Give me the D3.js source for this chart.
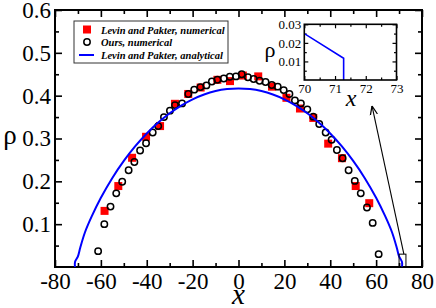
<!DOCTYPE html>
<html>
<head>
<meta charset="utf-8">
<script src="https://cdn.jsdelivr.net/npm/d3@7"></script>
<style>
  body { margin: 0; background: #fff; }
  svg { display: block; }
  .tick line { stroke: #000; }
</style>
</head>
<body>
<div id="chart"></div>
<script>
// Levin and Pakter, numerical (red squares)
const lpX = [-58.4, -52.4, -46.4, -40.3, -34.2, -27.7, -21.9, -16.5, -9.2, -3.7,
  1.9, 8.6, 14.6, 20.9, 26.8, 32.6, 39.1, 45.1, 51.1, 57.0];
const lpRho = [0.131, 0.189, 0.255, 0.304, 0.329, 0.381, 0.404, 0.419, 0.437, 0.434,
  0.447, 0.445, 0.421, 0.395, 0.370, 0.348, 0.288, 0.254, 0.189, 0.149];

// Ours, numerical (open circles)
const oursX = [-61.2, -58.5, -55.8, -53.3, -50.7, -47.9, -45.4, -42.9, -40.3, -37.4,
  -35.0, -32.5, -29.9, -27.7, -24.6, -21.9, -19.3, -16.6, -14.0, -11.6,
  -9.2, -6.4, -3.8, -1.1, 1.4, 4.1, 6.6, 9.2, 11.8, 14.5,
  17.1, 19.7, 22.2, 24.6, 27.2, 30.0, 32.6, 35.2, 38.0, 40.6,
  42.9, 45.4, 48.0, 50.7, 53.3, 56.0, 58.5, 61.1];
const oursRho = [0.037, 0.100, 0.141, 0.172, 0.199, 0.226, 0.245, 0.272, 0.289, 0.314,
  0.329, 0.350, 0.365, 0.378, 0.382, 0.404, 0.414, 0.420, 0.424, 0.433,
  0.437, 0.440, 0.444, 0.445, 0.450, 0.443, 0.439, 0.435, 0.432, 0.425,
  0.421, 0.413, 0.404, 0.389, 0.382, 0.368, 0.351, 0.334, 0.314, 0.297,
  0.273, 0.254, 0.226, 0.201, 0.172, 0.139, 0.103, 0.030];

// Levin and Pakter, analytical (blue line)
const anX = [-71.28, -71.28, -70, -69, -67, -64, -60, -55, -50, -45, -40, -35, -30, -25, -20, -15, -10, -5,
  0, 5, 10, 15, 20, 25, 30, 35, 40, 45, 50, 55, 60, 64, 67, 69, 70, 71.28, 71.28];
const anRho = [0, 0.0117, 0.025, 0.045, 0.080, 0.118, 0.1615, 0.208, 0.2476, 0.282, 0.3117, 0.3372, 0.3589, 0.3769, 0.3915, 0.4027, 0.4107, 0.4154,
  0.417, 0.4154, 0.4107, 0.4027, 0.3915, 0.3769, 0.3589, 0.3372, 0.3117, 0.282, 0.2476, 0.208, 0.1615, 0.118, 0.080, 0.045, 0.025, 0.0117, 0];

const xTicks = [-80, -60, -40, -20, 0, 20, 40, 60, 80];
const xTickLabels = ["-80", "-60", "-40", "-20", "0", "20", "40", "60", "80"];
const xMinor = [-70, -50, -30, -10, 10, 30, 50, 70];
const yTicks = [0.1, 0.2, 0.3, 0.4, 0.5, 0.6];
const yTickLabels = ["0.1", "0.2", "0.3", "0.4", "0.5", "0.6"];
const yMinor = [0.05, 0.15, 0.25, 0.35, 0.45, 0.55];

// inset (zoom of the right edge)
const insetXTicks = [70, 71, 72, 73];
const insetXLabels = ["70", "71", "72", "73"];
const insetXMinor = [70.5, 71.5, 72.5];
const insetYTicks = [0.01, 0.02, 0.03];
const insetYLabels = ["0.01", "0.02", "0.03"];
const insetYMinor = [0.005, 0.015, 0.025];

const legendLabels = ["Levin and Pakter, numerical", "Ours, numerical", "Levin and Pakter, analytical"];

const serif = "Liberation Serif";
const W = 436, H = 308;
const svg = d3.select("#chart").append("svg")
  .attr("width", W)
  .attr("height", H)
  .attr("font-family", serif);

const x = d3.scaleLinear().domain([-80, 80]).range([55, 422]);
const y = d3.scaleLinear().domain([0, 0.6]).range([267, 10]);

const fs = 23;

// ticks, mirrored on all four sides, pointing inwards
function ticks(g, axis, size, vals, labels, pad, fsize, sw) {
  const a = axis.tickValues(vals).tickSize(-size).tickPadding(pad);
  a.tickFormat(labels ? (d, i) => labels[i] : () => "");
  g.call(a);
  g.attr("font-family", serif);
  g.select(".domain").remove();
  g.selectAll(".tick line").attr("stroke-width", sw);
  g.selectAll("text").attr("font-size", fsize).attr("fill", "#000")
    .attr("font-family", serif);
}

svg.append("g").attr("transform", "translate(0,267)")
  .call(g => ticks(g, d3.axisBottom(x), 7, xTicks, xTickLabels, 6, fs, 1.6));
svg.append("g").attr("transform", "translate(0,267)")
  .call(g => ticks(g, d3.axisBottom(x), 4, xMinor, null, 6, fs, 1.6));
svg.append("g").attr("transform", "translate(0,10)")
  .call(g => ticks(g, d3.axisTop(x), 7, xTicks, null, 6, fs, 1.6));
svg.append("g").attr("transform", "translate(0,10)")
  .call(g => ticks(g, d3.axisTop(x), 4, xMinor, null, 6, fs, 1.6));
svg.append("g").attr("transform", "translate(55,0)")
  .call(g => ticks(g, d3.axisLeft(y), 7, yTicks, yTickLabels, 4, fs, 1.6));
svg.append("g").attr("transform", "translate(55,0)")
  .call(g => ticks(g, d3.axisLeft(y), 4, yMinor, null, 4, fs, 1.6));
svg.append("g").attr("transform", "translate(422,0)")
  .call(g => ticks(g, d3.axisRight(y), 7, yTicks, null, 4, fs, 1.6));
svg.append("g").attr("transform", "translate(422,0)")
  .call(g => ticks(g, d3.axisRight(y), 4, yMinor, null, 4, fs, 1.6));

// frame
svg.append("rect")
  .attr("x", x(-80)).attr("y", y(0.6))
  .attr("width", x(80) - x(-80)).attr("height", y(0) - y(0.6))
  .attr("fill", "none").attr("stroke", "#000").attr("stroke-width", 2);

// axis titles
svg.append("text")
  .attr("x", 10).attr("y", 144)
  .attr("text-anchor", "middle")
  .attr("font-family", serif)
  .attr("font-size", 27)
  .text("ρ");
svg.append("text")
  .attr("x", x(0)).attr("y", 304)
  .attr("text-anchor", "middle")
  .attr("font-family", serif)
  .attr("font-size", 29)
  .attr("font-style", "italic")
  .text("x");

// data
const lp = lpX.map((d, i) => ({ x: d, y: lpRho[i] }));
const ours = oursX.map((d, i) => ({ x: d, y: oursRho[i] }));
const an = anX.map((d, i) => ({ x: d, y: anRho[i] }));

const sq = 8;
svg.append("g").selectAll("rect")
  .data(lp)
  .enter().append("rect")
  .attr("x", d => x(d.x) - sq / 2)
  .attr("y", d => y(d.y) - sq / 2)
  .attr("width", sq).attr("height", sq)
  .attr("fill", "#ff0000");

svg.append("g").selectAll("circle")
  .data(ours)
  .enter().append("circle")
  .attr("cx", d => x(d.x))
  .attr("cy", d => y(d.y))
  .attr("r", 3.2)
  .attr("fill", "none")
  .attr("stroke", "#000")
  .attr("stroke-width", 1.5);

const line = d3.line()
  .x(d => x(d.x))
  .y(d => y(d.y))
  .curve(d3.curveCatmullRom.alpha(0.5));

svg.append("path")
  .datum(an)
  .attr("d", line)
  .attr("fill", "none")
  .attr("stroke", "#0000ff")
  .attr("stroke-width", 2);

// legend
const lg = svg.append("g");
lg.append("rect")
  .attr("x", 74).attr("y", 21).attr("width", 154).attr("height", 42)
  .attr("fill", "#fff").attr("stroke", "#333").attr("stroke-width", 1);
const rowY = [29.5, 42, 55];
lg.append("rect").attr("x", 83).attr("y", rowY[0] - 4).attr("width", 8).attr("height", 8)
  .attr("fill", "#ff0000");
lg.append("circle").attr("cx", 87).attr("cy", rowY[1]).attr("r", 3.2)
  .attr("fill", "none").attr("stroke", "#000").attr("stroke-width", 1.5);
lg.append("line").attr("x1", 79).attr("x2", 94).attr("y1", rowY[2]).attr("y2", rowY[2])
  .attr("stroke", "#0000ff").attr("stroke-width", 2);
lg.selectAll("text.leg")
  .data(legendLabels)
  .enter().append("text")
  .attr("class", "leg")
  .attr("x", 101)
  .attr("y", (d, i) => rowY[i] + 4)
  .attr("font-family", serif)
  .attr("font-size", 10.5)
  .attr("font-style", "italic")
  .attr("font-weight", "bold")
  .text(d => d);

// zoom box + arrow
svg.append("rect")
  .attr("x", x(70)).attr("y", y(0.03))
  .attr("width", x(73) - x(70)).attr("height", y(0) - y(0.03))
  .attr("fill", "none").attr("stroke", "#000").attr("stroke-width", 1);

svg.append("defs").append("marker")
  .attr("id", "arr")
  .attr("viewBox", "0 0 10 10")
  .attr("refX", 10).attr("refY", 5)
  .attr("markerWidth", 9).attr("markerHeight", 9)
  .attr("markerUnits", "userSpaceOnUse")
  .attr("orient", "auto")
  .append("path")
  .attr("d", "M0,1 L10,5 L0,9")
  .attr("fill", "none").attr("stroke", "#000").attr("stroke-width", 1.4);

svg.append("line")
  .attr("x1", x(72.1)).attr("y1", y(0.03))
  .attr("x2", x(58.2)).attr("y2", y(0.376))
  .attr("stroke", "#000").attr("stroke-width", 1.1)
  .attr("marker-end", "url(#arr)");

// inset
const xi = d3.scaleLinear().domain([70, 73]).range([304.3, 396.5]);
const yi = d3.scaleLinear().domain([0, 0.03]).range([80, 24.3]);
const inset = svg.append("g");
inset.append("rect")
  .attr("x", xi(70)).attr("y", yi(0.03))
  .attr("width", xi(73) - xi(70)).attr("height", yi(0) - yi(0.03))
  .attr("fill", "#fff");

inset.append("g").attr("transform", "translate(0,80)")
  .call(g => ticks(g, d3.axisBottom(xi), 4, insetXTicks, insetXLabels, 4, 13, 1.2));
inset.append("g").attr("transform", "translate(0,80)")
  .call(g => ticks(g, d3.axisBottom(xi), 2.5, insetXMinor, null, 4, 13, 1.2));
inset.append("g").attr("transform", "translate(0,24.3)")
  .call(g => ticks(g, d3.axisTop(xi), 4, insetXTicks, null, 4, 13, 1.2));
inset.append("g").attr("transform", "translate(0,24.3)")
  .call(g => ticks(g, d3.axisTop(xi), 2.5, insetXMinor, null, 4, 13, 1.2));
inset.append("g").attr("transform", "translate(304.3,0)")
  .call(g => ticks(g, d3.axisLeft(yi), 4, insetYTicks, insetYLabels, 3, 13, 1.2));
inset.append("g").attr("transform", "translate(304.3,0)")
  .call(g => ticks(g, d3.axisLeft(yi), 2.5, insetYMinor, null, 3, 13, 1.2));
inset.append("g").attr("transform", "translate(396.5,0)")
  .call(g => ticks(g, d3.axisRight(yi), 4, insetYTicks, null, 3, 13, 1.2));
inset.append("g").attr("transform", "translate(396.5,0)")
  .call(g => ticks(g, d3.axisRight(yi), 2.5, insetYMinor, null, 3, 13, 1.2));

svg.append("defs").append("clipPath").attr("id", "insetClip")
  .append("rect")
  .attr("x", xi(70)).attr("y", yi(0.03))
  .attr("width", xi(73) - xi(70)).attr("height", yi(0) - yi(0.03));

inset.append("path")
  .datum(an)
  .attr("clip-path", "url(#insetClip)")
  .attr("d", d3.line().x(d => xi(d.x)).y(d => yi(d.y)))
  .attr("fill", "none")
  .attr("stroke", "#0000ff")
  .attr("stroke-width", 1.6);

inset.append("rect")
  .attr("x", xi(70)).attr("y", yi(0.03))
  .attr("width", xi(73) - xi(70)).attr("height", yi(0) - yi(0.03))
  .attr("fill", "none").attr("stroke", "#000").attr("stroke-width", 1.6);

inset.append("text")
  .attr("x", 270).attr("y", 56.5)
  .attr("text-anchor", "middle")
  .attr("font-family", serif)
  .attr("font-size", 22)
  .text("ρ");
inset.append("text")
  .attr("x", 351).attr("y", 106)
  .attr("text-anchor", "middle")
  .attr("font-family", serif)
  .attr("font-size", 24)
  .attr("font-style", "italic")
  .text("x");
</script>
</body>
</html>
